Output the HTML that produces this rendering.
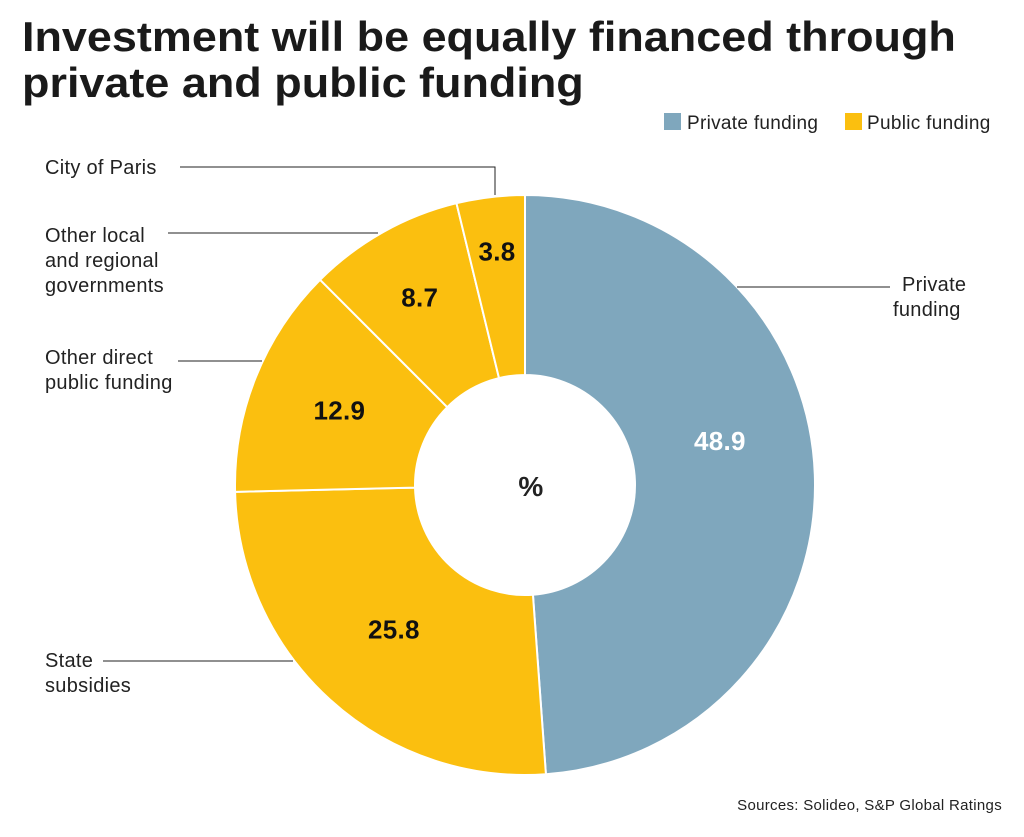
<!DOCTYPE html>
<html><head><meta charset="utf-8">
<style>
body{margin:0;background:#fff;font-family:"Liberation Sans",Arial,sans-serif;}
#wrap{position:relative;width:1024px;height:837px;overflow:hidden;}
h1{position:absolute;left:22px;top:14px;margin:0;font-size:42px;line-height:46px;font-weight:bold;color:#1a1a1a;transform:scaleX(1.07);transform-origin:left top;white-space:nowrap;}
svg text{letter-spacing:0.3px;}
</style></head><body>
<div id="wrap">
<h1>Investment will be equally financed through<br>private and public funding</h1>
<svg id="svg" width="1024" height="837" style="position:absolute;left:0;top:0">
 <g font-size="19" fill="#222">
  <rect x="664" y="113" width="17" height="17" fill="#7fa7bd"/>
  <text x="687" y="129">Private funding</text>
  <rect x="845" y="113" width="17" height="17" fill="#fbbf0f"/>
  <text x="867" y="129">Public funding</text>
 </g>
 <g id="slices"></g>
 <g id="labels"></g>
 <g stroke="#222" stroke-width="1" fill="none">
  <polyline points="180,167 495,167 495,195"/>
  <line x1="168" y1="233" x2="378" y2="233"/>
  <line x1="178" y1="361" x2="262" y2="361"/>
  <line x1="103" y1="661" x2="293" y2="661"/>
  <line x1="737" y1="287" x2="890" y2="287"/>
 </g>
 <g font-size="20" fill="#222">
  <text x="45" y="174">City of Paris</text>
  <text x="45" y="242"><tspan x="45">Other local</tspan><tspan x="45" dy="25">and regional</tspan><tspan x="45" dy="25">governments</tspan></text>
  <text x="45" y="364"><tspan x="45">Other direct</tspan><tspan x="45" dy="25">public funding</tspan></text>
  <text x="45" y="667"><tspan x="45">State</tspan><tspan x="45" dy="25">subsidies</tspan></text>
  <text x="893" y="291"><tspan x="902">Private</tspan><tspan x="893" dy="25">funding</tspan></text>
 </g>
 <text x="531" y="496" font-size="28" font-weight="bold" text-anchor="middle" fill="#222">%</text>
 <text x="1002" y="810" font-size="15" text-anchor="end" fill="#222">Sources: Solideo, S&amp;P Global Ratings</text>
</svg>
</div>
<script>
const categories=["Private funding","State subsidies","Other direct public funding","Other local and regional governments","City of Paris"];
const values=[48.9,25.8,12.9,8.7,3.8];
const valueLabels=["48.9","25.8","12.9","8.7","3.8"];
const groups=["private","public","public","public","public"];
const cx=525,cy=485,R=290,r0=110;
const labelRadius=[200,195,200,215,235];
const colors={private:"#7fa7bd",public:"#fbbf0f"};
const NS="http://www.w3.org/2000/svg";
const total=values.reduce((a,b)=>a+b,0);
function pt(a,rad){return [cx+rad*Math.sin(a),cy-rad*Math.cos(a)];}
let acc=0;
const sg=document.getElementById('slices'),lg=document.getElementById('labels');
values.forEach((v,i)=>{
 const a0=acc/total*2*Math.PI;acc+=v;const a1=acc/total*2*Math.PI;
 const large=(a1-a0)>Math.PI?1:0;
 const p0=pt(a0,R),p1=pt(a1,R),q1=pt(a1,r0),q0=pt(a0,r0);
 const p=document.createElementNS(NS,'path');
 p.setAttribute('d',`M${p0}A${R},${R} 0 ${large} 1 ${p1}L${q1}A${r0},${r0} 0 ${large} 0 ${q0}Z`);
 p.setAttribute('fill',colors[groups[i]]);p.setAttribute('stroke','#fff');p.setAttribute('stroke-width','2');
 
 
 sg.appendChild(p);
 const am=(a0+a1)/2;const l=pt(am,labelRadius[i]);
 const t=document.createElementNS(NS,'text');
 t.setAttribute('x',i===0?l[0]-5:l[0]);t.setAttribute('y',(i===0?l[1]-37:l[1])+9);
 t.setAttribute('text-anchor','middle');t.setAttribute('font-size','26');t.setAttribute('font-weight','bold');
 t.setAttribute('fill',i===0?'#fff':'#111');
 t.textContent=valueLabels[i];
 
 
 lg.appendChild(t);
});
</script>
</body></html>
